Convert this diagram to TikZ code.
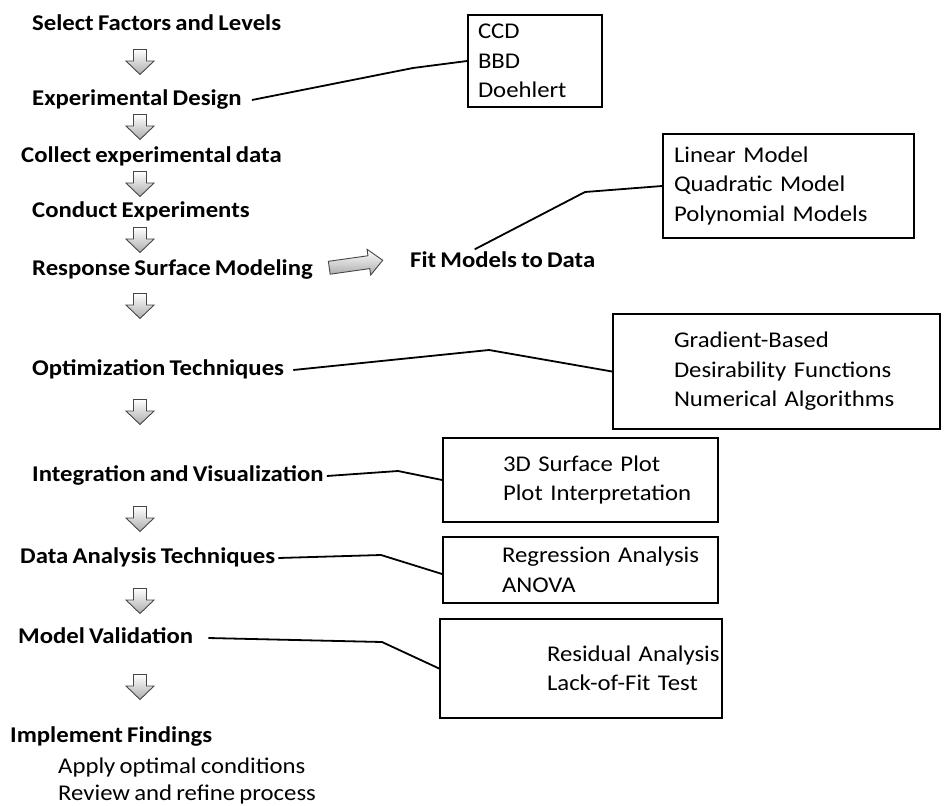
\documentclass[tikz,border=0pt]{standalone}
\usepackage{fontspec}
\setmainfont{Carlito}[FakeStretch=1.1,WordSpace=0.75]
\usetikzlibrary{calc}
\newcommand{\boxline}[2]{\hspace*{#1}\mbox{#2}}
\begin{document}
\begin{tikzpicture}[x=1pt,y=-1pt,
  stepnode/.style={anchor=west, font=\bfseries\fontsize{22.5}{26}\selectfont, inner sep=3pt, text height=15pt, text depth=4pt},
  subnode/.style={anchor=west, font=\fontsize{22.5}{26}\selectfont, inner sep=3pt, text height=15pt, text depth=4pt},
  listbox/.style={draw, line width=1.8pt, inner xsep=0pt, inner ysep=0pt, align=left, font=\fontsize{22.5}{29.5}\selectfont},
  link/.style={line width=1.8pt},
  arrowfill/.style={draw=gray!55!black, line width=0.9pt, top color=white, bottom color=gray!65},
  darr/.pic={\path[arrowfill] (-6.5,-12.5) -- (6.5,-12.5) -- (6.5,-1) -- (14,-1) -- (0,12.5) -- (-14,-1) -- (-6.5,-1) -- cycle;},
  rarr/.pic={\path[arrowfill] (-27,-6.5) -- (13,-6.5) -- (13,-13) -- (27,0) -- (13,13) -- (13,6.5) -- (-27,6.5) -- cycle;}
]
\useasboundingbox (0,0) rectangle (944,805);

% main steps
\node[stepnode] (sel) at (29,25) {Select Factors and Levels};
\node[stepnode] (ed) at (29,100) {Experimental Design};
\node[stepnode] (col) at (18,157) {Collect experimental data};
\node[stepnode] (con) at (29,212) {Conduct Experiments};
\node[stepnode] (rsm) at (29,270) {Response Surface Modeling};
\node[stepnode] (fit) at (407,262) {Fit Models to Data};
\node[stepnode] (opt) at (29,370) {Optimization Techniques};
\node[stepnode] (integ) at (29,476) {Integration and Visualization};
\node[stepnode] (dat) at (17,558) {Data Analysis Techniques};
\node[stepnode] (mv) at (15,638) {Model Validation};
\node[stepnode] (imp) at (7,737) {Implement Findings};
\node[subnode] (apply) at (55,768) {Apply optimal conditions};
\node[subnode] (review) at (55,795) {Review and refine process};

% boxes
\node[listbox, text width=134pt, minimum height=92pt] (ccd) at (535,61)
  {\boxline{10pt}{CCD}\\\boxline{10pt}{BBD}\\\boxline{10pt}{Doehlert}};
\node[listbox, text width=251pt, minimum height=104pt] (lin) at (788.5,186)
  {\boxline{11pt}{Linear Model}\\\boxline{11pt}{Quadratic Model}\\\boxline{11pt}{Polynomial Models}};
\node[listbox, text width=327pt, minimum height=115pt] (grad) at (776.5,371.5)
  {\boxline{61pt}{Gradient-Based}\\\boxline{61pt}{Desirability Functions}\\\boxline{61pt}{Numerical Algorithms}};
\node[listbox, text width=275pt, minimum height=84pt] (surf) at (580.5,480)
  {\boxline{60pt}{3D Surface Plot}\\\boxline{60pt}{Plot Interpretation}};
\node[listbox, text width=275pt, minimum height=66pt] (reg) at (580.5,570)
  {\boxline{59pt}{Regression Analysis}\\\boxline{59pt}{ANOVA}};
\node[listbox, text width=282pt, minimum height=99pt] (res) at (581,668.5)
  {\boxline{107pt}{Residual Analysis}\\\boxline{107pt}{Lack-of-Fit Test}};

% bend points
\coordinate (b1) at (413,68);
\coordinate (b2) at (585,192);
\coordinate (b3) at (489,350);
\coordinate (b4) at (398,471);
\coordinate (b5) at (381,555);
\coordinate (b6) at (382,642);

% connectors
\draw[link] ([xshift=7pt]ed.east) -- (b1) -- (ccd.west);
\draw[link] ([xshift=-28pt]fit.north) -- (b2) -- (lin.west);
\draw[link] ([xshift=6pt]opt.east) -- (b3) -- (grad.west);
\draw[link] (integ.east) -- (b4) -- (surf.west);
\draw[link] (dat.east) -- (b5) -- ([yshift=-4pt]reg.west);
\draw[link] ([xshift=12pt]mv.east) -- (b6) -- (res.west);

% flow arrows
\pic at (140,62) {darr};
\pic at (140,127) {darr};
\pic at (140,184) {darr};
\pic at (140,240) {darr};
\pic at (140,306) {darr};
\pic at (140,412) {darr};
\pic at (140,519) {darr};
\pic at (140,601) {darr};
\pic at (140,687) {darr};
\pic[rotate=8] at (356,264) {rarr};
\end{tikzpicture}
\end{document}
